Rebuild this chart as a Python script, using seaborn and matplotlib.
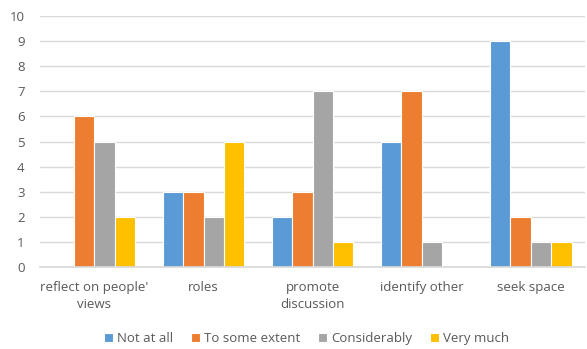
import matplotlib
matplotlib.use("Agg")
import matplotlib.pyplot as plt
import seaborn as sns
import pandas as pd

categories = ["reflect on people'\nviews", "roles", "promote\ndiscussion", "identify other", "seek space"]
series = ["Not at all", "To some extent", "Considerably", "Very much"]
not_at_all = [0, 3, 2, 5, 9]
to_some_extent = [6, 3, 3, 7, 2]
considerably = [5, 2, 7, 1, 1]
very_much = [2, 5, 1, 0, 1]
colors = ["#5B9BD5", "#ED7D31", "#A5A5A5", "#FFC000"]

values = [not_at_all, to_some_extent, considerably, very_much]
rows = []
for s, vals in zip(series, values):
    for c, v in zip(categories, vals):
        rows.append({"category": c, "series": s, "value": v})
df = pd.DataFrame(rows)

sns.set_theme(style="white")
plt.rcParams["font.family"] = ["Open Sans", "DejaVu Sans"]

fig = plt.figure(figsize=(5.87, 3.49), dpi=100)
ax = fig.add_axes([0.068, 0.235, 0.929, 0.719])

sns.barplot(data=df, x="category", y="value", hue="series", order=categories,
            hue_order=series, palette=colors, width=0.75, edgecolor="white",
            linewidth=0.8, saturation=1, ax=ax, legend=True)

ax.set_ylim(0, 10)
ax.set_yticks(range(0, 11))
ax.set_xlim(-0.5, len(categories) - 0.5)
ax.yaxis.grid(True, color="#D9D9D9", linewidth=1)
ax.set_axisbelow(True)
for side in ["top", "right", "left"]:
    ax.spines[side].set_visible(False)
ax.spines["bottom"].set_color("#D9D9D9")
ax.tick_params(axis="both", length=0, colors="#595959", labelsize=9.5)
ax.tick_params(axis="x", pad=10)
ax.tick_params(axis="y", pad=11)
for lbl in ax.get_xticklabels():
    lbl.set_linespacing(1.45)
ax.set_xlabel("")
ax.set_ylabel("")

handles, labels = ax.get_legend_handles_labels()
ax.legend(handles, labels, loc="center", bbox_to_anchor=(0.489, -0.285), ncol=4,
          frameon=False, fontsize=9.5, handlelength=0.65, handleheight=0.65,
          handletextpad=0.3, columnspacing=1.4, labelcolor="#595959")

fig.savefig("out.png", dpi=100)
